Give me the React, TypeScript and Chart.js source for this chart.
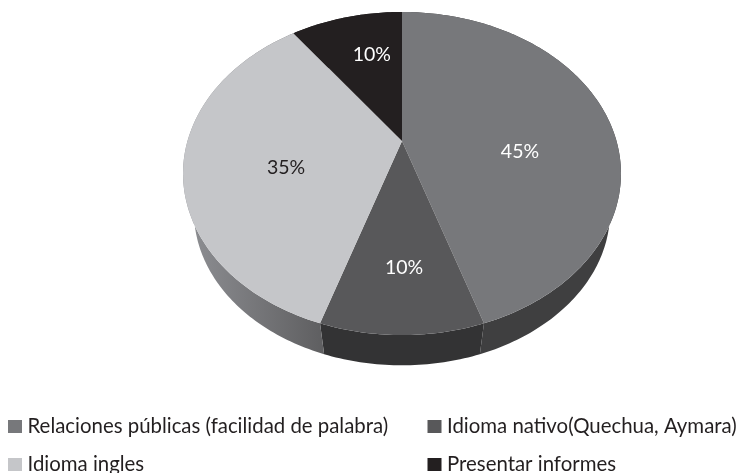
import React, { useEffect, useRef } from "react";
import { Chart, registerables } from "chart.js";

Chart.register(...registerables);

const categories = [
  "Relaciones públicas (facilidad de palabra)",
  "Idioma nativo(Quechua, Aymara)",
  "Idioma ingles",
  "Presentar informes",
];
const shares = [45, 10, 35, 10];
const faceColors = ["#77787b", "#58585a", "#c5c6c9", "#231f20"];
const labelColors = ["#ffffff", "#ffffff", "#231f20", "#ffffff"];
const wallColors = ["#3f3f40", "#333334", "#6b6b6e", "#231f20"];

// Perspective of the tilted disc
const APEX_X = 402;
const APEX_Y = 141;
const RADIUS_X = 214.5;
const RADIUS_Y = 155;
const TILT = 0.2013;
const WALL_SHRINK = 0.95;
const WALL_DROP = 40;
const ELLIPSE_Y = 173.5;
const ELLIPSE_RX = 219;
const ELLIPSE_RY = 161;
const labelNudge = [[-1, -8], [2, 6], [3, -20], [7, -35]];
const FONT = "Lato, 'Open Sans', sans-serif";

function project(angle: number): [number, number] {
  const u = Math.cos(angle);
  const v = Math.sin(angle);
  const w = 1 - TILT * v;
  return [APEX_X + (RADIUS_X * u) / w, APEX_Y + (RADIUS_Y * v) / w];
}

function lower(p: [number, number]): [number, number] {
  return [
    APEX_X + (p[0] - APEX_X) * WALL_SHRINK,
    APEX_Y + (p[1] - APEX_Y) * WALL_SHRINK + WALL_DROP,
  ];
}

function arcPoints(a0: number, a1: number): [number, number][] {
  const pts: [number, number][] = [];
  const n = Math.max(8, Math.ceil((a1 - a0) * 60));
  for (let i = 0; i <= n; i++) pts.push(project(a0 + ((a1 - a0) * i) / n));
  return pts;
}

const tiltedPie = {
  id: "tiltedPie",
  beforeDatasetsDraw(chart: any) {
    const ctx = chart.ctx;
    const arcs = chart.getDatasetMeta(0).data;
    ctx.save();
    arcs.forEach((arc: any, i: number) => {
      const pts = arcPoints(arc.startAngle, arc.endAngle);
      ctx.beginPath();
      pts.forEach((p, k) => (k ? ctx.lineTo(p[0], p[1]) : ctx.moveTo(p[0], p[1])));
      [...pts].reverse().forEach((p) => {
        const q = lower(p);
        ctx.lineTo(q[0], q[1]);
      });
      ctx.closePath();
      if (i === 2) {
        const g = ctx.createLinearGradient(195, 0, 325, 0);
        g.addColorStop(0, "#8b8c90");
        g.addColorStop(1, "#5e5e60");
        ctx.fillStyle = g;
      } else {
        ctx.fillStyle = wallColors[i];
      }
      ctx.fill();
    });
    arcs.forEach((arc: any, i: number) => {
      const pts = arcPoints(arc.startAngle, arc.endAngle);
      ctx.beginPath();
      ctx.moveTo(APEX_X, APEX_Y);
      pts.forEach((p) => ctx.lineTo(p[0], p[1]));
      ctx.closePath();
      ctx.fillStyle = faceColors[i];
      ctx.fill();
    });
    ctx.font = `19.5px ${FONT}`;
    ctx.textAlign = "center";
    ctx.textBaseline = "middle";
    arcs.forEach((arc: any, i: number) => {
      const mid = (arc.startAngle + arc.endAngle) / 2;
      const x = APEX_X + 0.55 * ELLIPSE_RX * Math.cos(mid) + labelNudge[i][0];
      const y = ELLIPSE_Y + 0.55 * ELLIPSE_RY * Math.sin(mid) + labelNudge[i][1];
      ctx.fillStyle = labelColors[i];
      ctx.fillText(`${shares[i]}%`, x, y);
    });
    ctx.restore();
    return false;
  },
  afterDraw(chart: any) {
    const ctx = chart.ctx;
    const cols = [8, 427.5];
    const rows = [420, 458];
    ctx.save();
    ctx.font = `20.4px ${FONT}`;
    ctx.textAlign = "left";
    ctx.textBaseline = "alphabetic";
    categories.forEach((name, i) => {
      const x = cols[i % 2];
      const y = rows[Math.floor(i / 2)];
      ctx.fillStyle = faceColors[i];
      ctx.fillRect(x, y, 14, 13);
      ctx.fillStyle = "#231f20";
      ctx.fillText(name, x + 19.5, y + 13);
    });
    ctx.restore();
  },
};

export default function App() {
  const ref = useRef<HTMLCanvasElement>(null);
  useEffect(() => {
    document.body.style.margin = "0";
    const chart = new Chart(ref.current!, {
      type: "pie",
      data: {
        labels: categories,
        datasets: [{ data: shares, backgroundColor: faceColors, borderWidth: 0 }],
      },
      options: {
        responsive: false,
        animation: false,
        plugins: { legend: { display: false }, tooltip: { enabled: false } },
      },
      plugins: [tiltedPie],
    } as any);
    return () => chart.destroy();
  }, []);
  return <canvas ref={ref} width={740} height={473} style={{ display: "block" }} />;
}
